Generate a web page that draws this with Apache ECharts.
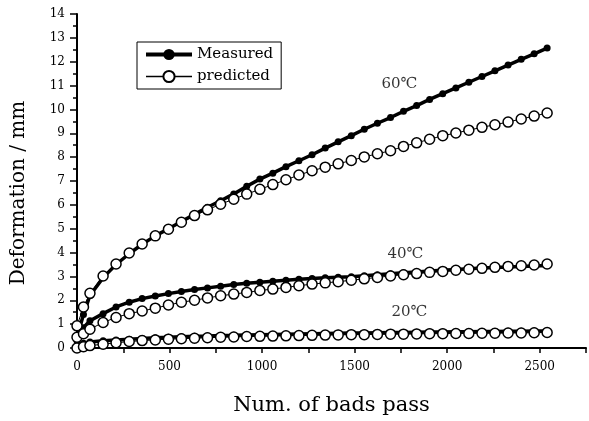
<!DOCTYPE html>
<html>
<head>
<meta charset="utf-8">
<script src="https://cdn.jsdelivr.net/npm/echarts@6/dist/echarts.min.js"></script>
<style>
  html, body { margin: 0; padding: 0; background: #fff; }
  #chart { width: 589px; height: 421px; }
</style>
</head>
<body>
<div id="chart"></div>
<script>
// number of loads passed
const passes = [0, 35, 70, 141, 211, 282, 352, 423, 494, 564, 635, 705, 776, 847, 917, 988, 1058, 1129, 1199, 1270,
  1341, 1411, 1482, 1552, 1623, 1694, 1764, 1835, 1905, 1976, 2047, 2117, 2188, 2258, 2329, 2400, 2470, 2540];

// deformation (mm)
const measured60 = [0.45, 1.4, 2.2, 2.95, 3.5, 3.95, 4.35, 4.7, 5.0, 5.3, 5.6, 5.9, 6.17, 6.46, 6.78, 7.08, 7.33, 7.6, 7.85, 8.1,
  8.38, 8.64, 8.9, 9.17, 9.42, 9.66, 9.92, 10.16, 10.42, 10.66, 10.9, 11.14, 11.38, 11.62, 11.86, 12.1, 12.33, 12.57];
const predicted60 = [0.93, 1.72, 2.29, 3.02, 3.52, 3.98, 4.36, 4.7, 4.98, 5.27, 5.55, 5.79, 6.03, 6.24, 6.45, 6.65, 6.85, 7.05, 7.25, 7.43,
  7.58, 7.72, 7.86, 8.01, 8.14, 8.27, 8.45, 8.6, 8.75, 8.9, 9.01, 9.13, 9.25, 9.36, 9.47, 9.6, 9.72, 9.85];
const measured40 = [0.3, 0.85, 1.14, 1.44, 1.72, 1.92, 2.07, 2.18, 2.28, 2.37, 2.45, 2.52, 2.59, 2.66, 2.71, 2.76, 2.8, 2.84, 2.88, 2.91,
  2.94, 2.97, 2.99, 3.03, 3.07, 3.11, 3.15, 3.19, 3.23, 3.26, 3.29, 3.32, 3.35, 3.37, 3.4, 3.42, 3.44, 3.46];
const predicted40 = [0.45, 0.6, 0.79, 1.07, 1.28, 1.44, 1.55, 1.67, 1.8, 1.92, 2.0, 2.1, 2.19, 2.26, 2.33, 2.41, 2.47, 2.54, 2.61, 2.68,
  2.73, 2.78, 2.84, 2.9, 2.96, 3.02, 3.07, 3.12, 3.17, 3.21, 3.26, 3.3, 3.34, 3.38, 3.42, 3.45, 3.48, 3.52];
const measured20 = [0.1, 0.2, 0.25, 0.3, 0.34, 0.37, 0.4, 0.43, 0.45, 0.47, 0.49, 0.5, 0.52, 0.53, 0.55, 0.56, 0.57, 0.58, 0.59, 0.6,
  0.61, 0.62, 0.63, 0.63, 0.64, 0.65, 0.65, 0.66, 0.67, 0.67, 0.68, 0.68, 0.69, 0.69, 0.7, 0.7, 0.71, 0.71];
const predicted20 = [0.0, 0.05, 0.1, 0.16, 0.22, 0.27, 0.31, 0.34, 0.37, 0.39, 0.41, 0.43, 0.45, 0.46, 0.48, 0.49, 0.5, 0.51, 0.52, 0.53,
  0.54, 0.55, 0.56, 0.56, 0.57, 0.58, 0.58, 0.59, 0.6, 0.6, 0.61, 0.61, 0.62, 0.62, 0.63, 0.63, 0.64, 0.65];

// temperature annotations, in data units
const tempLabels = [
  { text: "60℃", x: 1742, y: 11.07 },
  { text: "40℃", x: 1774, y: 3.95 },
  { text: "20℃", x: 1796, y: 1.52 },
];

const FONT = "DejaVu Serif";
const pair = (ys) => passes.map((x, i) => [x, ys[i]]);

const measuredStyle = {
  type: "line",
  name: "Measured",
  symbol: "circle",
  symbolSize: 7,
  itemStyle: { color: "#000" },
  lineStyle: { color: "#000", width: 3.5 },
  z: 2,
};
const predictedStyle = {
  type: "line",
  name: "predicted",
  symbol: "circle",
  symbolSize: 10,
  itemStyle: { color: "#fff", borderColor: "#000", borderWidth: 1.5 },
  lineStyle: { color: "#000", width: 1 },
  z: 3,
};

const chart = echarts.init(document.getElementById("chart"), null, { renderer: "canvas" });

chart.setOption({
  backgroundColor: "#fff",
  animation: false,
  grid: { left: 77, right: 2, top: 14, bottom: 67 },
  legend: {
    data: [
      { name: "Measured", lineStyle: { width: 4 } },
      { name: "predicted", lineStyle: { width: 1.5 } },
    ],
    orient: "vertical",
    left: 137,
    top: 42,
    padding: [5, 8, 5, 7],
    itemGap: 7,
    itemWidth: 46,
    itemHeight: 14,
    borderColor: "#000",
    borderWidth: 1,
    textStyle: { fontFamily: FONT, fontSize: 15, color: "#000" },
  },
  xAxis: {
    type: "value",
    min: 0,
    max: 2750,
    interval: 250,
    name: "Num. of bads pass",
    nameLocation: "middle",
    nameGap: 47,
    nameTextStyle: { fontFamily: FONT, fontSize: 21, color: "#000" },
    axisLine: { onZero: false, lineStyle: { color: "#000", width: 2 } },
    axisTick: { inside: false, length: 5, lineStyle: { color: "#000", width: 1.5 } },
    axisLabel: {
      margin: 13,
      fontFamily: FONT,
      fontSize: 12,
      color: "#000",
      formatter: (v) => (v % 500 === 0 && v <= 2500 ? String(v) : ""),
    },
    splitLine: { show: false },
  },
  yAxis: {
    type: "value",
    min: 0,
    max: 14,
    interval: 1,
    name: "Deformation / mm",
    nameLocation: "middle",
    nameGap: 48,
    nameTextStyle: { fontFamily: FONT, fontSize: 20, color: "#000", padding: [0, 24, 0, 0] },
    axisLine: { show: true, lineStyle: { color: "#000", width: 2 } },
    axisTick: { inside: false, length: 7, lineStyle: { color: "#000", width: 1.5 } },
    minorTick: { show: true, splitNumber: 2, length: 4, lineStyle: { color: "#000", width: 1.5 } },
    axisLabel: { margin: 12, fontFamily: FONT, fontSize: 12, color: "#000" },
    splitLine: { show: false },
  },
  series: [
    { ...measuredStyle, data: pair(measured60) },
    { ...measuredStyle, data: pair(measured40) },
    { ...measuredStyle, data: pair(measured20) },
    { ...predictedStyle, data: pair(predicted60) },
    { ...predictedStyle, data: pair(predicted40) },
    { ...predictedStyle, data: pair(predicted20) },
    {
      type: "scatter",
      name: "labels",
      symbolSize: 0,
      silent: true,
      data: tempLabels.map((d) => ({ value: [d.x, d.y], name: d.text })),
      label: {
        show: true,
        position: "inside",
        formatter: (p) => p.name,
        fontFamily: FONT,
        fontSize: 15,
        color: "#000",
      },
      z: 5,
    },
  ],
});

window.addEventListener("resize", () => chart.resize());
</script>
</body>
</html>
